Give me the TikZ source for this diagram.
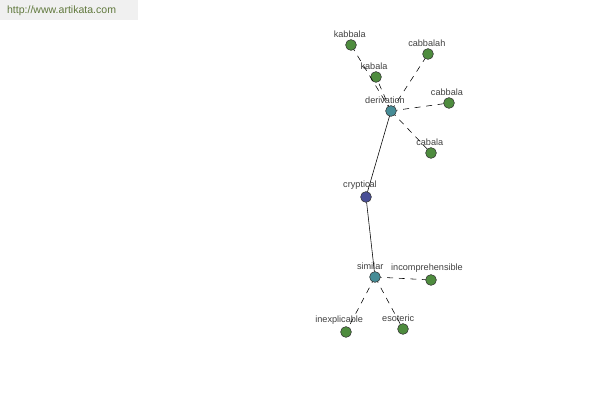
\documentclass[tikz,border=0pt]{standalone}
\usepackage{fontspec}
\setmainfont{Liberation Sans}
\definecolor{leafgreen}{RGB}{78,140,62}
\definecolor{hubteal}{RGB}{70,140,150}
\definecolor{rootblue}{RGB}{72,78,150}
\definecolor{urlgreen}{RGB}{96,120,60}
\definecolor{bargray}{RGB}{240,240,240}
\tikzset{
word/.style={
	draw=black!80,
	shape=circle,
	inner sep=0pt,
	outer sep=0pt,
	minimum size=0.27cm,
	thin,
},
leaf/.style={
	fill=leafgreen,
},
hub/.style={
	fill=hubteal,
},
root/.style={
	fill=rootblue,
},
lbl/.style={
	font=\fontsize{6.5}{7}\selectfont,
	text=black!75,
	inner sep=0pt,
	label distance=0.05cm,
},
link/.style={
	black,
	thin,
},
syn/.style={
	black,
	thin,
	dash pattern=on 0.15cm off 0.14cm,
	dash phase=0.12cm,
}
}

\begin{document}
\begin{tikzpicture}
		\useasboundingbox (0,0) rectangle (15,10);
		% Header
		\fill[bargray] (0,10) rectangle (3.45,9.5);
		\node[anchor=west, inner sep=0pt, text=urlgreen, font=\fontsize{7.5}{8}\selectfont] (url) at (0.17,9.74) {http://www.artikata.com};
		
		% Centre
		\node[word, root, label={[lbl, xshift=-0.15cm]above:cryptical}] (cryptical) at (9.15,5.075) {};
		% Hubs
		\node[word, hub, label={[lbl, xshift=-0.15cm]above:derivation}] (derivation) at (9.775,7.225) {};
		\node[word, hub, label={[lbl, xshift=-0.12cm]above:similar}] (similar) at (9.375,3.075) {};
		% Leaves of derivation
		\node[word, leaf, label={[lbl, xshift=-0.03cm]above:kabbala}] (kabbala) at (8.775,8.875) {};
		\node[word, leaf, label={[lbl, xshift=-0.05cm]above:kabala}] (kabala) at (9.4,8.075) {};
		\node[word, leaf, label={[lbl, xshift=-0.03cm]above:cabbalah}] (cabbalah) at (10.7,8.65) {};
		\node[word, leaf, label={[lbl, xshift=-0.05cm]above:cabbala}] (cabbala) at (11.225,7.425) {};
		\node[word, leaf, label={[lbl, xshift=-0.03cm]above:cabala}] (cabala) at (10.775,6.175) {};
		% Leaves of similar
		\node[word, leaf, label={[lbl, xshift=-0.1cm]above:incomprehensible}] (incomprehensible) at (10.775,3.0) {};
		\node[word, leaf, label={[lbl, xshift=-0.17cm]above:inexplicable}] (inexplicable) at (8.65,1.7) {};
		\node[word, leaf, label={[lbl, xshift=-0.12cm]above:esoteric}] (esoteric) at (10.075,1.775) {};
		
		% Connections
		\draw[link] (derivation) -- (cryptical);
		\draw[link] (cryptical) -- (similar);
		
		% derivation ->
		\draw[syn] (derivation) -- (kabbala);
		\draw[syn] (derivation) -- (kabala);
		\draw[syn] (derivation) -- (cabbalah);
		\draw[syn] (derivation) -- (cabbala);
		\draw[syn] (derivation) -- (cabala);
		
		% similar ->
		\draw[syn] (similar) -- (incomprehensible);
		\draw[syn] (similar) -- (inexplicable);
		\draw[syn] (similar) -- (esoteric);
	\end{tikzpicture}
\end{document}
